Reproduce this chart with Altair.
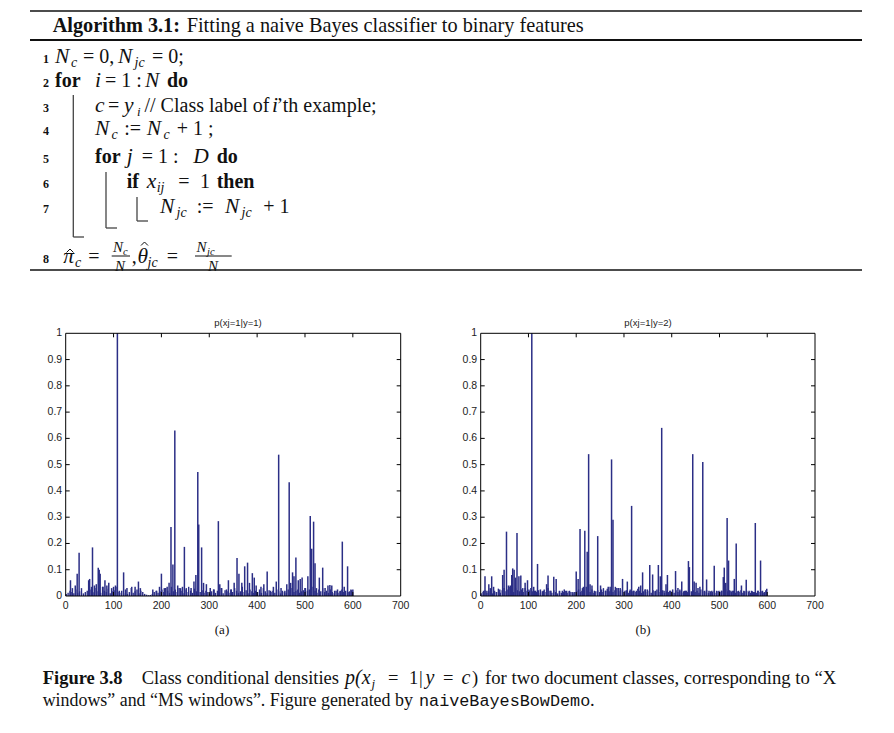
import altair as alt
import pandas as pd

OFF = 8
NAVY = "#2b2e86"

# ---------------- data: p(xj=1|y=1) ----------------
left_peak_u = [10, 14, 20, 24, 28, 48, 50, 54, 56, 60, 64, 68, 70, 72, 78, 82, 86, 90, 96, 100,
               104, 108, 112, 121, 128, 138, 145, 152, 156, 182, 190, 196, 200, 206, 212, 216, 220,
               224, 228, 234, 240, 244, 248, 252, 262, 268, 272, 276, 278, 284, 288, 294, 302, 310,
               319, 322, 326, 336, 340, 346, 352, 358, 362, 368, 374, 380, 384, 390, 394, 398, 408,
               414, 421, 428, 434, 440, 445, 450, 458, 462, 467, 470, 474, 477, 481, 486, 490, 494,
               500, 506, 511, 514, 518, 521, 524, 530, 537, 542, 548, 552, 556, 562, 568, 574, 578,
               582, 589, 592, 596, 600]
left_peak_v = [0.06, 0.03, 0.04, 0.085, 0.165, 0.06, 0.065, 0.035, 0.185, 0.04, 0.045, 0.108, 0.1,
               0.085, 0.035, 0.06, 0.04, 0.05, 0.03, 0.035, 0.04, 1.0, 0.02, 0.09, 0.03, 0.035, 0.035,
               0.055, 0.03, 0.025, 0.02, 0.035, 0.085, 0.03, 0.035, 0.05, 0.263, 0.12, 0.63, 0.04,
               0.03, 0.035, 0.187, 0.03, 0.03, 0.055, 0.08, 0.472, 0.272, 0.185, 0.05, 0.045, 0.03,
               0.025, 0.285, 0.045, 0.03, 0.025, 0.06, 0.025, 0.05, 0.145, 0.085, 0.05, 0.113, 0.127,
               0.05, 0.087, 0.07, 0.04, 0.035, 0.045, 0.093, 0.02, 0.035, 0.055, 0.538, 0.03, 0.02,
               0.045, 0.433, 0.05, 0.09, 0.075, 0.147, 0.06, 0.065, 0.07, 0.03, 0.075, 0.305, 0.18,
               0.283, 0.125, 0.03, 0.07, 0.108, 0.03, 0.04, 0.042, 0.04, 0.02, 0.025, 0.02, 0.207,
               0.035, 0.113, 0.015, 0.025, 0.025]
# low background values (thousandths) for features 1, 5, 9, ... 597
left_base = [8, 12, 20, 15, 10, 25, 12, 18, 30, 10, 15, 20, 8, 25, 14, 30, 18, 22, 12, 35, 20, 15, 28, 10, 18,
             22, 35, 15, 12, 20, 10, 25, 8, 15, 30, 12, 18, 25, 10, 20, 15, 8, 5, 3, 4, 8, 15, 20, 12, 18,
             25, 15, 30, 20, 12, 35, 18, 25, 15, 30, 20, 10, 25, 15, 35, 20, 12, 28, 18, 30, 15, 22, 12, 20, 15,
             10, 18, 25, 12, 20, 15, 30, 10, 22, 18, 12, 25, 15, 30, 20, 12, 18, 35, 15, 22, 10, 25, 18, 12, 20,
             15, 25, 12, 30, 18, 10, 22, 15, 20, 12, 25, 18, 10, 20, 15, 12, 25, 18, 30, 15, 20, 25, 12, 18, 22,
             30, 20, 25, 15, 35, 20, 12, 25, 18, 30, 15, 20, 12, 25, 15, 10, 20, 12, 18, 25, 15, 20, 12, 18, 22]

# ---------------- data: p(xj=1|y=2) ----------------
right_peak_u = [6, 9, 13, 17, 20, 23, 27, 33, 40, 46, 49, 54, 58, 62, 65, 67, 70, 73, 76, 80, 84, 88,
                93, 98, 102, 107, 111, 115, 119, 125, 131, 138, 141, 147, 153, 158, 165, 171, 175, 180,
                186, 193, 200, 204, 208, 212, 215, 218, 223, 226, 229, 233, 238, 245, 251, 256, 262,
                267, 271, 274, 277, 282, 288, 292, 297, 302, 307, 312, 316, 320, 326, 331, 335, 339,
                344, 349, 354, 360, 366, 372, 376, 379, 384, 388, 391, 396, 402, 408, 413, 417, 421,
                427, 431, 435, 437, 444, 447, 451, 455, 459, 465, 469, 473, 478, 484, 489, 494, 499,
                504, 508, 510, 513, 516, 519, 524, 528, 531, 535, 540, 546, 551, 556, 562, 567, 571,
                575, 580, 586, 590, 594, 599]
right_peak_v = [0.02, 0.075, 0.02, 0.045, 0.03, 0.075, 0.035, 0.015, 0.025, 0.08, 0.1, 0.245, 0.04,
                0.04, 0.08, 0.105, 0.1, 0.07, 0.24, 0.075, 0.078, 0.03, 0.05, 0.06, 0.02, 1.0, 0.035,
                0.02, 0.122, 0.025, 0.02, 0.045, 0.078, 0.02, 0.073, 0.065, 0.02, 0.02, 0.025, 0.02,
                0.02, 0.015, 0.093, 0.065, 0.255, 0.02, 0.035, 0.248, 0.168, 0.54, 0.045, 0.04, 0.02,
                0.228, 0.04, 0.015, 0.02, 0.035, 0.035, 0.52, 0.29, 0.035, 0.03, 0.03, 0.065, 0.02,
                0.055, 0.02, 0.343, 0.02, 0.02, 0.035, 0.04, 0.09, 0.025, 0.025, 0.118, 0.082, 0.02,
                0.118, 0.075, 0.64, 0.02, 0.045, 0.08, 0.02, 0.025, 0.095, 0.03, 0.02, 0.055, 0.02,
                0.02, 0.133, 0.11, 0.54, 0.055, 0.05, 0.03, 0.035, 0.51, 0.02, 0.063, 0.02, 0.02,
                0.115, 0.02, 0.02, 0.02, 0.072, 0.108, 0.05, 0.297, 0.135, 0.02, 0.02, 0.065, 0.2,
                0.02, 0.04, 0.02, 0.062, 0.02, 0.02, 0.015, 0.278, 0.02, 0.135, 0.02, 0.015, 0.028]
right_base = [10, 15, 22, 12, 18, 25, 10, 20, 15, 28, 12, 22, 30, 18, 25, 35, 20, 15, 30, 22, 18, 25, 15, 30, 20,
              25, 30, 18, 20, 15, 22, 12, 18, 25, 15, 30, 20, 12, 22, 15, 10, 18, 12, 15, 20, 12, 18, 15, 10, 15,
              20, 25, 15, 30, 22, 35, 20, 15, 25, 12, 18, 22, 15, 25, 30, 20, 28, 18, 25, 15, 22, 30, 18, 25, 20,
              15, 22, 12, 25, 18, 20, 15, 28, 20, 12, 18, 25, 15, 20, 12, 22, 18, 25, 15, 20, 22, 12, 18, 15, 20,
              18, 12, 22, 15, 25, 12, 18, 20, 15, 25, 18, 22, 15, 20, 12, 25, 18, 15, 22, 12, 18, 15, 20, 12, 18,
              15, 20, 12, 25, 18, 22, 15, 20, 12, 18, 15, 22, 12, 18, 20, 15, 12, 18, 15, 12, 20, 15, 18, 12, 22]

x_ticks = [0, 100, 200, 300, 400, 500, 600, 700]
y_ticks = [0, 0.1, 0.2, 0.3, 0.4, 0.5, 0.6, 0.7, 0.8, 0.9, 1]
y_labels = ["0", "0.1", "0.2", "0.3", "0.4", "0.5", "0.6", "0.7", "0.8", "0.9", "1"]

dummy = pd.DataFrame({"k": [0]})
SERIF = "Liberation Serif"
SANS = "Liberation Sans"
MONO = "Liberation Mono"


def seg(text, x, y, size=19.5, font=SERIF, weight="normal", style="normal",
        color="#111111", align="left"):
    return alt.Chart(pd.DataFrame({"t": [text]})).mark_text(
        font=font, fontSize=size, fontWeight=weight, fontStyle=style,
        color=color, align=align, baseline="alphabetic"
    ).encode(x=alt.value(x - OFF), y=alt.value(y - OFF), text="t:N")


def it(text, x, y, size=21.5):
    return seg(text, x, y, size=size, style="italic")


def sub(text, x, y, size=14):
    return seg(text, x, y, size=size, style="italic")


def bold(text, x, y, size=20):
    return seg(text, x, y, size=size, weight="bold")


def line(x1, y1, x2, y2, w=1.0, color="#111111"):
    return alt.Chart(dummy).mark_rule(color=color, strokeWidth=w).encode(
        x=alt.value(x1 - OFF), y=alt.value(y1 - OFF), x2=alt.value(x2 - OFF), y2=alt.value(y2 - OFF))


def hat(xc, ytip, hw=3.5, h=3.5):
    return [line(xc - hw, ytip + h, xc, ytip), line(xc, ytip, xc + hw, ytip + h)]


def hrule(x1, x2, y, w=1.5, color="#111111"):
    return alt.Chart(dummy).mark_rule(color=color, strokeWidth=w).encode(
        x=alt.value(x1 - OFF), x2=alt.value(x2 - OFF), y=alt.value(y - OFF))


def vrule(x, y1, y2, w=1.5, color="#111111"):
    return alt.Chart(dummy).mark_rule(color=color, strokeWidth=w).encode(
        x=alt.value(x - OFF), y=alt.value(y1 - OFF), y2=alt.value(y2 - OFF))


Y0, Y1 = 596, 333.3


def panel(peak_u, peak_v, base, x0, x1, title, title_x):
    xs = alt.Scale(domain=[0, 700], range=[x0 - OFF, x1 - OFF])
    ys = alt.Scale(domain=[0, 1], range=[Y0 - OFF, Y1 - OFF])
    base_df = pd.DataFrame({"u": [1 + 4 * i for i in range(len(base))],
                            "v": [b / 1000 for b in base]})
    peak_df = pd.DataFrame({"u": peak_u, "v": peak_v})
    xt = pd.DataFrame({"t": x_ticks, "lab": [str(t) for t in x_ticks]})
    yt = pd.DataFrame({"t": y_ticks, "lab": y_labels})
    xt_in = xt[(xt.t > 0) & (xt.t < 700)]
    yt_in = yt[(yt.t > 0) & (yt.t < 1)]
    layers = []
    layers.append(alt.Chart(base_df).mark_rule(color=NAVY, strokeWidth=1.4).encode(
        x=alt.X("u:Q", scale=xs, axis=None), y=alt.Y("v:Q", scale=ys, axis=None),
        y2=alt.value(Y0 - OFF)))
    layers.append(alt.Chart(peak_df).mark_rule(color=NAVY, strokeWidth=1.5).encode(
        x=alt.X("u:Q", scale=xs, axis=None), y=alt.Y("v:Q", scale=ys, axis=None),
        y2=alt.value(Y0 - OFF)))
    # frame
    layers.append(hrule(x0, x1, Y0, w=1, color="#000"))
    layers.append(hrule(x0, x1, Y1, w=1, color="#000"))
    layers.append(vrule(x0, Y1, Y0, w=1, color="#000"))
    layers.append(vrule(x1, Y1, Y0, w=1, color="#000"))
    # inward ticks
    layers.append(alt.Chart(xt_in).mark_rule(color="#000", strokeWidth=1).encode(
        x=alt.X("t:Q", scale=xs, axis=None), y=alt.value(Y0 - OFF), y2=alt.value(Y0 - OFF - 4)))
    layers.append(alt.Chart(xt_in).mark_rule(color="#000", strokeWidth=1).encode(
        x=alt.X("t:Q", scale=xs, axis=None), y=alt.value(Y1 - OFF), y2=alt.value(Y1 - OFF + 4)))
    layers.append(alt.Chart(yt_in).mark_rule(color="#000", strokeWidth=1).encode(
        y=alt.Y("t:Q", scale=ys, axis=None), x=alt.value(x0 - OFF), x2=alt.value(x0 - OFF + 4)))
    layers.append(alt.Chart(yt_in).mark_rule(color="#000", strokeWidth=1).encode(
        y=alt.Y("t:Q", scale=ys, axis=None), x=alt.value(x1 - OFF), x2=alt.value(x1 - OFF - 4)))
    # tick labels
    layers.append(alt.Chart(xt).mark_text(font=SANS, fontSize=10.5, color="#222",
                                          align="center", baseline="alphabetic").encode(
        x=alt.X("t:Q", scale=xs, axis=None), y=alt.value(608.5 - OFF), text="lab:N"))
    layers.append(alt.Chart(yt).mark_text(font=SANS, fontSize=10.5, color="#222",
                                          align="right", baseline="middle").encode(
        y=alt.Y("t:Q", scale=ys, axis=None), x=alt.value(x0 - 3.5 - OFF), text="lab:N"))
    layers.append(seg(title, title_x, 326, size=9.5, font=SANS, color="#222", align="center"))
    return layers


layers = []

# ---------------- Algorithm box ----------------
layers += [hrule(30, 862, 11), hrule(30, 862, 40, w=1.8), hrule(30, 862, 270)]
layers += [bold("Algorithm 3.1:", 52.7, 32, size=20.3),
           seg("Fitting a naive Bayes classifier to binary features", 186.7, 32, size=20.3)]

for n, b in zip(["1", "2", "3", "4", "5", "6", "7", "8"], [63, 87, 112, 135, 163, 188, 213, 263]):
    layers.append(seg(n, 46, b, size=12, weight="bold", align="center"))

# line 1
layers += [it("N", 55, 63), sub("c", 71, 67), seg("= 0,", 83, 63, size=20),
           it("N", 118, 63), sub("jc", 134.5, 67), seg("= 0;", 152, 63, size=20)]
# line 2
layers += [bold("for", 55, 87), it("i", 95, 87), seg("= 1 :", 105, 87, size=20), it("N", 145, 87),
           bold("do", 167, 87)]
# line 3
layers += [it("c", 95, 112), seg("=", 108, 112, size=20), it("y", 124, 112), sub("i", 137, 116, size=13),
           seg("// Class label of", 144.5, 112, size=20), it("i", 272, 112),
           seg("\u2019th example;", 276.5, 112, size=20)]
# line 4
layers += [it("N", 95, 135), sub("c", 111.5, 139), seg(":=", 124.3, 135, size=20), it("N", 146.7, 135),
           sub("c", 163.5, 139), seg("+ 1 ;", 176.7, 135, size=20)]
# line 5
layers += [bold("for", 95, 163), it("j", 126.7, 163), seg("= 1 :", 141.7, 163, size=20),
           it("D", 193.3, 163), bold("do", 216.7, 163)]
# line 6
layers += [bold("if", 126.7, 188), it("x", 146.7, 188), sub("ij", 156.7, 192), seg("=", 178.3, 188, size=20),
           seg("1", 200, 188, size=20), bold("then", 216.7, 188)]
# line 7
layers += [it("N", 160, 213), sub("jc", 176.5, 217), seg(":=", 196.7, 213, size=20), it("N", 225, 213),
           sub("jc", 241.5, 217), seg("+ 1", 263.3, 213, size=20)]
# line 8
layers += [it("\u03c0", 63.3, 263), sub("c", 75, 267), seg("=", 88.3, 263, size=20),
           it("N", 113, 252, size=15), sub("c", 123, 254.5, size=10.5), hrule(111.7, 130, 256, w=1),
           it("N", 115, 270.5, size=15), seg(",", 131.7, 263, size=20),
           it("\u03b8", 137.5, 263), sub("jc", 147.5, 267), seg("=", 166.7, 263, size=20),
           it("N", 196.5, 252, size=15), sub("jc", 207, 254.5, size=10.5), hrule(195, 231.7, 256, w=1),
           it("N", 208, 270.5, size=15)]
layers += hat(70, 249) + hat(144.5, 242)
# block structure bars
G = "#444444"
layers += [vrule(73.3, 95, 237, w=1.3, color=G), hrule(73.3, 84, 237, w=1.3, color=G),
           vrule(106, 172, 228, w=1.3, color=G), hrule(106, 117, 228, w=1.3, color=G),
           vrule(137, 197, 221, w=1.3, color=G), hrule(137, 148, 221, w=1.3, color=G)]

# ---------------- Panels ----------------
layers += panel(left_peak_u, left_peak_v, left_base, 65.7, 400.7, "p(xj=1|y=1)", 238)
layers += panel(right_peak_u, right_peak_v, right_base, 480.7, 815, "p(xj=1|y=2)", 648)
layers += [seg("(a)", 222, 634, size=13, align="center"), seg("(b)", 643, 634, size=13, align="center")]

# ---------------- Caption ----------------
CS = 18.5
layers += [bold("Figure 3.8", 42.7, 684, size=CS),
           seg("Class conditional densities", 141.7, 684, size=CS),
           it("p(x", 345, 684, size=20), sub("j", 371.5, 688, size=13),
           seg("=", 388, 684, size=CS), seg("1", 409, 684, size=CS), seg("|", 419, 684, size=CS),
           it("y", 425.5, 684, size=20), seg("=", 443, 684, size=CS),
           it("c", 461.5, 684, size=20), seg(")", 472, 684, size=CS),
           seg("for two document classes, corresponding to \u201cX", 485, 684, size=18.7),
           seg("windows\u201d and \u201cMS windows\u201d. Figure generated by", 42.7, 706, size=17.9),
           seg("naiveBayesBowDemo", 419, 706, size=16.8, font=MONO),
           seg(".", 590, 706, size=CS)]

chart = alt.layer(*layers).resolve_scale(x="independent", y="independent").properties(
    width=878, height=717, padding=0, autosize=alt.AutoSizeParams(type="none")
).configure_view(stroke=None)

chart.save("out.html", embed_options={"renderer": "svg", "actions": False})
